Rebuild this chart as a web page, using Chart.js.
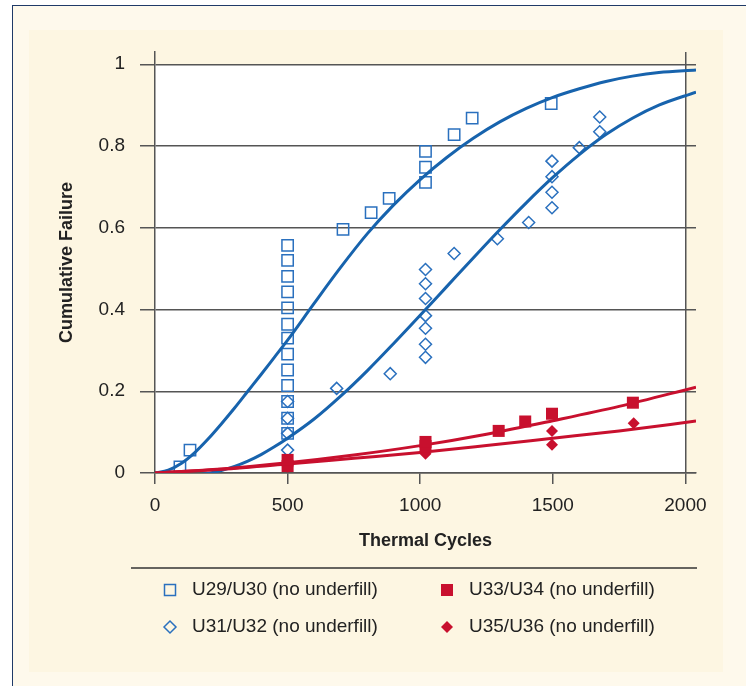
<!DOCTYPE html>
<html>
<head>
<meta charset="utf-8">
<script src="https://cdn.jsdelivr.net/npm/chart.js@4/dist/chart.umd.min.js"></script>
<style>
  html, body { margin: 0; padding: 0; background: #fff; }
  #frame {
    position: absolute; left: 12px; top: 5px; width: 740px; height: 690px;
    border-left: 1.5px solid #1f3a68; border-top: 1.5px solid #1f3a68;
    background: #fef9ec;
  }
  #panel {
    position: absolute; left: 29px; top: 30px; width: 694px; height: 642px;
    background: #fdf6e2;
  }
  #chart { position: absolute; left: 0; top: 0; }
</style>
</head>
<body>
<div id="frame"></div>
<div id="panel"></div>
<canvas id="chart" width="746" height="686"></canvas>
<script>
// ticks
const xTicks = [0, 500, 1000, 1500, 2000];
const yTicks = [0, 0.2, 0.4, 0.6, 0.8, 1];

// measured points
const u29x = [94, 132, 500, 500, 500, 500, 500, 500, 500, 500, 500, 500, 500, 500, 500, 709, 815, 883, 1020, 1020, 1020, 1128, 1196, 1494];
const u29y = [0.015, 0.056, 0.097, 0.134, 0.175, 0.214, 0.252, 0.291, 0.330, 0.364, 0.404, 0.443, 0.481, 0.520, 0.557, 0.596, 0.637, 0.672, 0.711, 0.748, 0.787, 0.828, 0.868, 0.904];

const u31x = [500, 500, 500, 500, 685, 887, 1020, 1020, 1020, 1020, 1020, 1020, 1020, 1128, 1291, 1409, 1497, 1497, 1497, 1497, 1600, 1677, 1677];
const u31y = [0.056, 0.097, 0.134, 0.175, 0.207, 0.243, 0.283, 0.315, 0.354, 0.385, 0.427, 0.463, 0.498, 0.537, 0.573, 0.613, 0.649, 0.687, 0.725, 0.763, 0.796, 0.835, 0.871];

const u33x = [500, 500, 1020, 1020, 1296, 1396, 1497, 1802];
const u33y = [0.017, 0.032, 0.066, 0.076, 0.103, 0.126, 0.145, 0.172];

const u35x = [500, 1020, 1497, 1497, 1805];
const u35y = [0.015, 0.047, 0.069, 0.103, 0.122];

// fitted curves
const fitBlueX = [0, 50, 100, 150, 200, 250, 300, 350, 400, 450, 500, 600, 700, 800, 900, 1000, 1100, 1200, 1300, 1400, 1500, 1600, 1700, 1800, 1900, 2040];
const fitU29 = [0, 0.007, 0.024, 0.05, 0.083, 0.12, 0.159, 0.2, 0.241, 0.283, 0.325, 0.415, 0.503, 0.585, 0.656, 0.718, 0.772, 0.819, 0.859, 0.892, 0.919, 0.94, 0.958, 0.971, 0.98, 0.986];
const fitU31 = [0, -0.004, -0.006, -0.005, -0.001, 0.006, 0.016, 0.029, 0.045, 0.064, 0.085, 0.132, 0.188, 0.25, 0.317, 0.386, 0.456, 0.526, 0.595, 0.661, 0.723, 0.779, 0.828, 0.868, 0.9, 0.932];

const fitRedX = [0, 250, 500, 750, 1000, 1250, 1500, 1750, 2040];
const fitU33 = [0, 0.010, 0.025, 0.044, 0.067, 0.095, 0.128, 0.163, 0.21];
const fitU35 = [0, 0.009, 0.022, 0.036, 0.05, 0.067, 0.085, 0.103, 0.127];

const BLUE = "#1763ad";
const BLUE_MK = "#2a70be";
const RED = "#c8102e";
const GRID = "#555555";

const pts = (xs, ys) => xs.map((x, i) => ({ x: x, y: ys[i] }));

const curve = (xs, ys, color, order) => ({
  data: pts(xs, ys),
  showLine: true,
  borderColor: color,
  borderWidth: 3,
  pointRadius: 0,
  cubicInterpolationMode: "monotone",
  order: order,
});

const legendItems = [
  { label: "U29/U30 (no underfill)", color: BLUE_MK, style: "rect", fill: false },
  { label: "U31/U32 (no underfill)", color: BLUE_MK, style: "rectRot", fill: false },
  { label: "U33/U34 (no underfill)", color: RED, style: "rect", fill: true },
  { label: "U35/U36 (no underfill)", color: RED, style: "rectRot", fill: true },
];

//white plot area only up to x=2000, y=1
const plotBg = {
  id: "plotBg",
  beforeDraw: (chart) => {
    const { ctx, scales } = chart;
    const l = scales.x.getPixelForValue(0);
    const r = scales.x.getPixelForValue(2000);
    const t = scales.y.getPixelForValue(1);
    const b = scales.y.getPixelForValue(0);
    ctx.save();
    ctx.fillStyle = "#ffffff";
    ctx.fillRect(l, t, r - l, b - t);
    ctx.restore();
  },
};

// legend under the rule
const legendBox = {
  id: "legendBox",
  afterDraw: (chart) => {
    const ctx = chart.ctx;
    ctx.save();
    ctx.strokeStyle = "#333";
    ctx.lineWidth = 1.5;
    ctx.beginPath();
    ctx.moveTo(131, 568);
    ctx.lineTo(697, 568);
    ctx.stroke();

    const spots = [[170, 590], [170, 627], [447, 590], [447, 627]];
    legendItems.forEach((item, i) => {
      const [px, py] = spots[i];
      ctx.beginPath();
      if (item.style === "rect") {
        const s = item.fill ? 6 : 5.5;
        ctx.rect(px - s, py - s, 2 * s, 2 * s);
      } else {
        const r = 6;
        ctx.moveTo(px - r, py);
        ctx.lineTo(px, py - r);
        ctx.lineTo(px + r, py);
        ctx.lineTo(px, py + r);
        ctx.closePath();
      }
      if (item.fill) {
        ctx.fillStyle = item.color;
        ctx.fill();
      } else {
        ctx.strokeStyle = item.color;
        ctx.lineWidth = 1.5;
        ctx.stroke();
      }
      ctx.fillStyle = "#222";
      ctx.font = "19px 'Liberation Sans', Arial, sans-serif";
      ctx.textAlign = "left";
      ctx.textBaseline = "middle";
      ctx.fillText(item.label, px + 22, py);
    });
    ctx.restore();
  },
};

const tickFont = { family: "'Liberation Sans', Arial, sans-serif", size: 19 };
const titleFont = { family: "'Liberation Sans', Arial, sans-serif", size: 18, weight: "bold" };

new Chart(document.querySelector("#chart"), {
  type: "scatter",
  data: {
    datasets: [
      {
        label: legendItems[2].label,
        data: pts(u33x, u33y),
        pointStyle: "rect",
        pointRadius: 8.5,
        backgroundColor: RED,
        borderColor: RED,
        borderWidth: 0,
        order: 0,
      },
      {
        label: legendItems[3].label,
        data: pts(u35x, u35y),
        pointStyle: "rectRot",
        pointRadius: 6,
        backgroundColor: RED,
        borderColor: RED,
        borderWidth: 0,
        order: 0,
      },
      Object.assign(curve(fitRedX, fitU33, RED, 1), { label: "fit U33/U34" }),
      Object.assign(curve(fitRedX, fitU35, RED, 1), { label: "fit U35/U36" }),
      Object.assign(curve(fitBlueX, fitU29, BLUE, 2), { label: "fit U29/U30" }),
      Object.assign(curve(fitBlueX, fitU31, BLUE, 2), { label: "fit U31/U32" }),
      {
        label: legendItems[0].label,
        data: pts(u29x, u29y),
        pointStyle: "rect",
        pointRadius: 8,
        backgroundColor: "rgba(255,255,255,0)",
        borderColor: BLUE_MK,
        borderWidth: 1.5,
        order: 3,
      },
      {
        label: legendItems[1].label,
        data: pts(u31x, u31y),
        pointStyle: "rectRot",
        pointRadius: 6,
        backgroundColor: "rgba(255,255,255,0)",
        borderColor: BLUE_MK,
        borderWidth: 1.5,
        order: 3,
      },
    ],
  },
  options: {
    responsive: false,
    animation: false,
    events: [],
    layout: { padding: { left: 0, top: 52, right: 50, bottom: 133 } },
    plugins: {
      legend: { display: false },
      tooltip: { enabled: false },
    },
    scales: {
      x: {
        type: "linear",
        min: 0,
        max: 2040,
        afterBuildTicks: (s) => {
          s.ticks = xTicks.map((v) => ({ value: v }));
        },
        afterFit: (s) => {
          s.height = 80;
        },
        ticks: {
          font: tickFont,
          color: "#222",
          padding: 10,
          maxRotation: 0,
          callback: (v) => String(v),
        },
        grid: {
          color: (c) => (c.tick && c.tick.value === 2000 ? GRID : "rgba(0,0,0,0)"),
          tickColor: GRID,
          tickLength: 11,
          lineWidth: 1.5,
        },
        border: { display: true, color: GRID, width: 1.5 },
        title: {
          display: true,
          text: "Thermal Cycles",
          font: titleFont,
          color: "#222",
          padding: { top: 0, bottom: 1 },
        },
      },
      y: {
        type: "linear",
        min: 0,
        max: 1.03,
        afterBuildTicks: (s) => {
          s.ticks = yTicks.map((v) => ({ value: v }));
        },
        afterFit: (s) => {
          s.width = 155;
        },
        ticks: {
          font: tickFont,
          color: "#222",
          padding: 15,
          callback: (v) => String(v),
        },
        grid: {
          color: GRID,
          tickColor: GRID,
          tickLength: 15,
          lineWidth: 1.5,
        },
        border: { display: true, color: GRID, width: 1.5 },
        title: {
          display: true,
          text: "Cumulative Failure",
          font: titleFont,
          color: "#222",
          padding: { top: 56, bottom: 0 },
        },
      },
    },
  },
  plugins: [plotBg, legendBox],
});
</script>
</body>
</html>
